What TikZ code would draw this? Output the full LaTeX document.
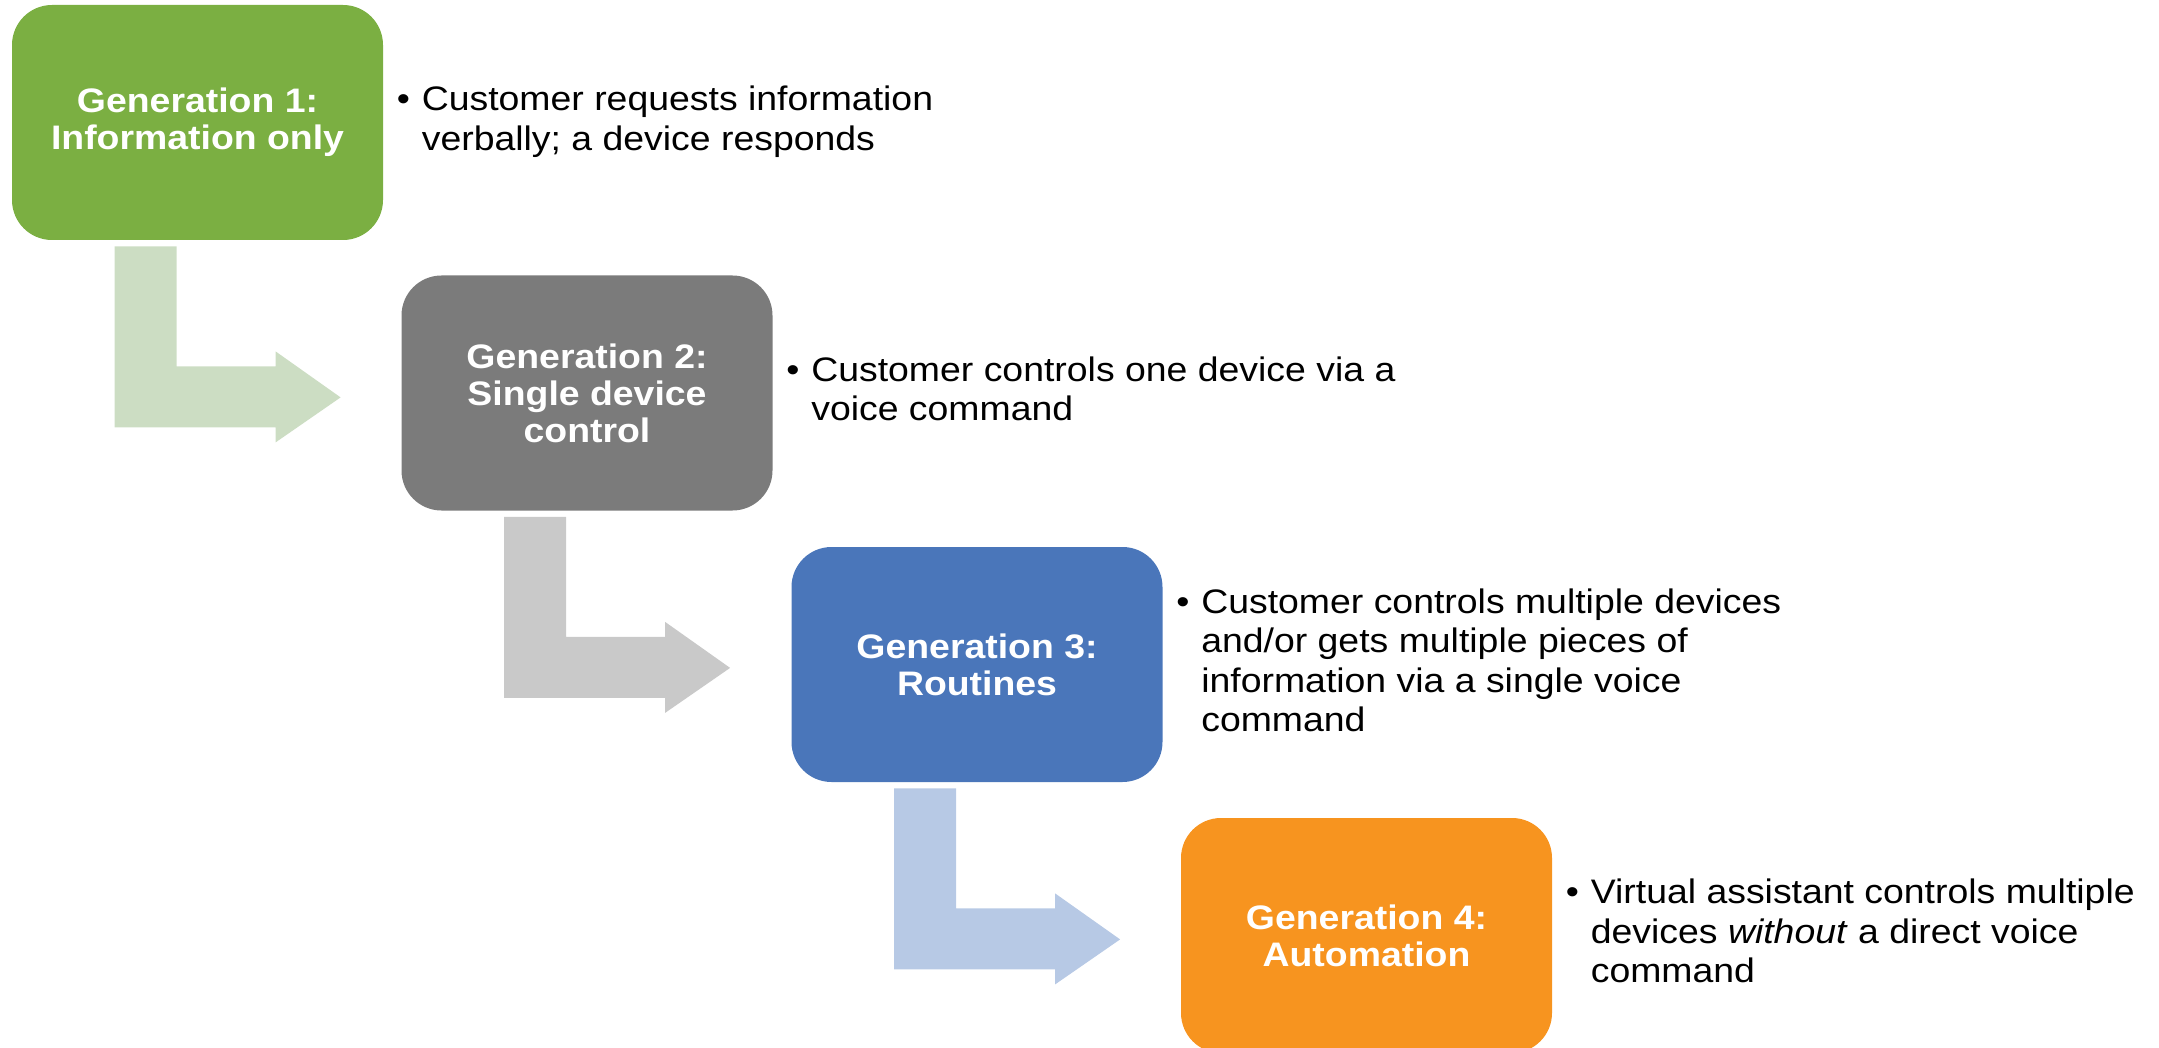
\documentclass[tikz,border=0pt]{standalone}
\usepackage{fontspec}
\setmainfont{Liberation Sans}[FakeStretch=1.1]
\usetikzlibrary{calc}

\definecolor{gOne}{HTML}{7BAF42}
\definecolor{gTwo}{HTML}{7B7B7B}
\definecolor{gThree}{HTML}{4A76BA}
\definecolor{gFour}{HTML}{F7941F}
\definecolor{aOne}{HTML}{CCDDC3}
\definecolor{aTwo}{HTML}{C9C9C9}
\definecolor{aThree}{HTML}{B7C9E5}

% a bullet followed by a block of lines that all start at the same indent
\newcommand\bulletlines[1]{\makebox[12.5pt][l]{•}\begin{tabular}[t]{@{}l@{}}#1\end{tabular}}

\tikzset{
  genbox/.style={rounded corners=20pt, minimum width=185.5pt, minimum height=117.5pt,
    inner sep=0pt, text=white, align=center,
    font=\bfseries\fontsize{17}{18.5}\selectfont},
  note/.style={anchor=west, inner sep=0pt,
    font=\fontsize{17}{19.75}\selectfont},
  % bent arrow leaving the lower left part of a box and pointing right
  bentarrow/.style args={#1 with #2}{insert path={
    ($(#1.south west)+(103,6)$) -- ($(#1.south west)+(165,6)$)
    -- ($(#1.south west)+(165,126)$) -- ($(#1.south west)+(264,126)$)
    -- ($(#1.south west)+(264,111)$) -- ($(#1.south west)+(329,157)$)
    -- ($(#1.south west)+(264,202)$) -- ($(#1.south west)+(264,187)$)
    -- ($(#1.south west)+(103,187)$) -- cycle}, fill=#2}
}

\begin{document}
\begin{tikzpicture}[x=0.5pt,y=-0.5pt]
\useasboundingbox (0,0) rectangle (2159,1048);

% generation boxes
\node[genbox, fill=gOne]   (b1) at (197.5,122.5) {Generation 1:\\Information only};
\node[genbox, fill=gTwo]   (b2) at (587,393)     {Generation 2:\\Single device\\control};
\node[genbox, fill=gThree] (b3) at (977,664.5)   {Generation 3:\\Routines};
\node[genbox, fill=gFour]  (b4) at (1366.5,935.5) {Generation 4:\\Automation};

% arrows between the generations
\fill[bentarrow={b1 with aOne}];
\fill[bentarrow={b2 with aTwo}];
\fill[bentarrow={b3 with aThree}];

% descriptions
\node[note] (t1) at ($(b1.east)+(13,0)$)
  {\bulletlines{Customer requests information\\verbally; a device responds}};
\node[note] (t2) at ($(b2.east)+(13,0)$)
  {\bulletlines{Customer controls one device via a\\voice command}};
\node[note] (t3) at ($(b3.east)+(13,0)$)
  {\bulletlines{Customer controls multiple devices\\and/or gets multiple pieces of\\information via a single voice\\command}};
\node[note] (t4) at ($(b4.east)+(13,0)$)
  {\bulletlines{Virtual assistant controls multiple\\devices \textit{without} a direct voice\\command}};
\end{tikzpicture}
\end{document}
